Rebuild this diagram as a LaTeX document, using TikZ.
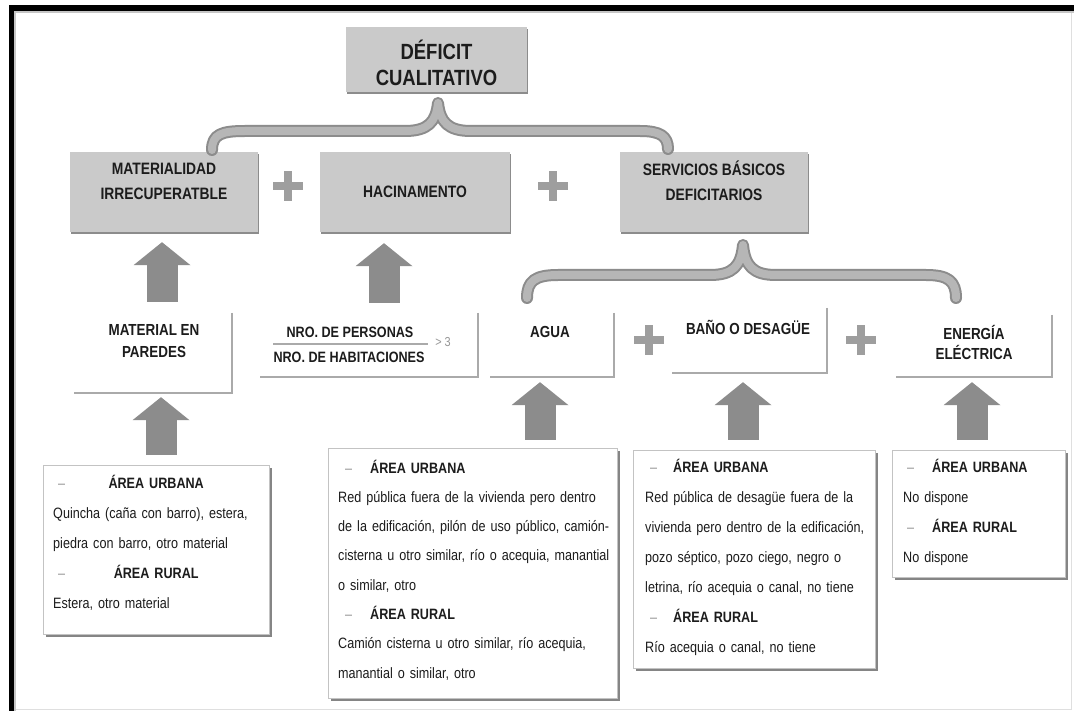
\documentclass[tikz,border=0pt]{standalone}
\usepackage{fontspec}
\setmainfont{Liberation Sans}[FakeStretch=0.84]
\usetikzlibrary{arrows.meta,calc,shadows}

\definecolor{boxgray}{RGB}{202,202,202}
\definecolor{shadowgray}{RGB}{120,120,120}
\definecolor{arrowgray}{RGB}{140,140,140}
\definecolor{bracefill}{RGB}{182,182,182}
\definecolor{braceedge}{RGB}{140,140,140}
\definecolor{plusgray}{RGB}{158,158,158}
\definecolor{ink}{RGB}{28,28,28}
\definecolor{linegray}{RGB}{170,170,170}
\definecolor{dashgray}{RGB}{150,150,150}

\tikzset{
  greybox/.style={rectangle, fill=boxgray, draw=none, inner sep=0pt,
    drop shadow={shadow xshift=1pt, shadow yshift=-2.5pt, fill=shadowgray, opacity=0.85}},
  openbox/.style={rectangle, draw=none, inner sep=0pt},
  infobox/.style={rectangle, fill=white, draw=linegray!70, line width=0.8pt, inner sep=0pt,
    drop shadow={shadow xshift=2.5pt, shadow yshift=-2.5pt, fill=shadowgray, opacity=0.9}},
  boxedge/.style={draw=linegray, line width=1.6pt},
  title/.style={text=ink, font=\bfseries\fontsize{22}{26}\selectfont, align=center, inner sep=0pt},
  headtext/.style={text=ink, font=\bfseries\fontsize{16.5}{25}\selectfont, align=center, inner sep=0pt},
  subtext/.style={text=ink, font=\bfseries\fontsize{16}{22}\selectfont, align=center, inner sep=0pt},
  fractext/.style={text=ink, font=\bfseries\fontsize{15}{18}\selectfont, inner sep=0pt},
  bodytext/.style={text=ink, font=\fontsize{15}{#1}\selectfont, align=left, inner sep=0pt, anchor=base west},
  plussign/.style={minimum size=30pt, inner sep=0pt,
    path picture={
      \fill[plusgray] ([xshift=-15pt,yshift=-3.8pt]path picture bounding box.center)
        rectangle ([xshift=15pt,yshift=3.8pt]path picture bounding box.center);
      \fill[plusgray] ([xshift=-3.8pt,yshift=-15pt]path picture bounding box.center)
        rectangle ([xshift=3.8pt,yshift=15pt]path picture bounding box.center);}},
  blockarrow/.style={draw=arrowgray, line width=31pt,
    -{Triangle[width=57pt,length=23pt,line width=0pt]}},
  braceouter/.style={draw=braceedge, line width=12pt, line cap=round, line join=round},
  braceinner/.style={draw=bracefill, line width=8pt, line cap=round, line join=round},
}

\newcommand{\urb}[2]{\hspace{#1}\textcolor{dashgray}{–}\hspace{#2}\textbf{ÁREA URBANA}}
\newcommand{\rur}[2]{\hspace{#1}\textcolor{dashgray}{–}\hspace{#2}\textbf{ÁREA RURAL}}

\begin{document}
\begin{tikzpicture}[x=1pt,y=-1pt]
\useasboundingbox (0,0) rectangle (1074,711);
\fill[white] (0,0) rectangle (1074,711);

% page frame
\fill[black] (9,5) rectangle (1074,11);
\fill[black] (9,5) rectangle (14,711);
\fill[gray!45] (14,11) rectangle (16,711);
\fill[gray!45] (14,11) rectangle (1074,13);
\draw[gray!25, line width=1pt] (1071,13) -- (1071,709) -- (16,709);

% top level
\node[greybox, minimum width=181pt, minimum height=65pt] (def) at (436.5,59.5) {};
\node[title] (defT) at (436.5,63) {DÉFICIT\\CUALITATIVO};

% second level
\node[greybox, minimum width=188pt, minimum height=80pt] (mat) at (164,192) {};
\node[greybox, minimum width=190pt, minimum height=80pt] (hac) at (415,192) {};
\node[greybox, minimum width=188pt, minimum height=80pt] (srv) at (714,192) {};
\node[headtext] (matT) at (164,181) {MATERIALIDAD\\IRRECUPERATBLE};
\node[headtext] (hacT) at (415,192) {HACINAMENTO};
\node[headtext] (srvT) at (714,181) {SERVICIOS BÁSICOS\\DEFICITARIOS};
\node[plussign] (p1) at (288,186) {};
\node[plussign] (p2) at (553,186) {};

% brace from the top box to the second level
\coordinate (t1) at (438,103);
\coordinate (l1) at (212,150);
\coordinate (r1) at (668,149);
\foreach \st in {braceouter,braceinner}{
  \draw[\st] (l1) .. controls (212,134) and (222,131) .. (245,131)
    -- (405,131) .. controls (428,131) and (436,122) .. (t1)
    .. controls (440,122) and (448,131) .. (471,131)
    -- (640,131) .. controls (660,131) and (668,136) .. (r1);
}

% third level
\node[openbox, minimum width=158pt, minimum height=80pt] (matpar) at (153,353) {};
\node[openbox, minimum width=218pt, minimum height=64pt] (frac) at (369,345) {};
\node[openbox, minimum width=124pt, minimum height=64pt] (agua) at (552,345) {};
\node[openbox, minimum width=155pt, minimum height=65pt] (bano) at (749.5,340.5) {};
\node[openbox, minimum width=156pt, minimum height=62pt] (energ) at (974,346) {};
\foreach \b in {matpar,frac,agua,bano,energ}{
  \draw[boxedge] (\b.north east) -- (\b.south east) -- (\b.south west);
}
\node[subtext] (matparT) at (154,341) {MATERIAL EN\\PAREDES};
\node[fractext] (fracnum) at (350,332) {NRO. DE PERSONAS};
\node[fractext] (fracden) at (349,357) {NRO. DE HABITACIONES};
\draw[linegray, line width=1.2pt] (fracden.north west |- 0,344) -- ([xshift=3pt]fracden.east |- 0,344);
\node[text=dashgray, font=\fontsize{13}{15}\selectfont, inner sep=0pt] (gt) at (443,342) {> 3};
\node[subtext] (aguaT) at (550,332) {AGUA};
\node[subtext] (banoT) at (748,327) {BAÑO O DESAGÜE};
\node[subtext, font=\bfseries\fontsize{16}{20}\selectfont] (energT) at (974,342) {ENERGÍA\\ELÉCTRICA};
\node[plussign] (p3) at (649,340) {};
\node[plussign] (p4) at (861,340) {};

% brace over the basic services
\coordinate (t2) at (743,245);
\coordinate (l2) at (527,298);
\coordinate (r2) at (956,298);
\foreach \st in {braceouter,braceinner}{
  \draw[\st] (l2) .. controls (527,281) and (535,275) .. (558,275)
    -- (710,275) .. controls (733,275) and (741,266) .. (t2)
    .. controls (745,266) and (753,275) .. (776,275)
    -- (926,275) .. controls (948,275) and (956,281) .. (r2);
}

% detail boxes
\node[infobox, minimum width=226pt, minimum height=169pt] (b1) at (156,549.5) {};
\node[infobox, minimum width=289pt, minimum height=250pt] (b2) at (472.5,573) {};
\node[infobox, minimum width=242pt, minimum height=218pt] (b3) at (754,559) {};
\node[infobox, minimum width=173pt, minimum height=127pt] (b4) at (978.5,513.5) {};

\node[bodytext=30pt, text width=206pt] (b1T) at (53,488) {%
  \makebox[0pt][l]{\hspace{5pt}\textcolor{dashgray}{–}}\makebox[\linewidth]{\textbf{ÁREA URBANA}}\\
  Quincha (caña con barro), estera,\\
  piedra con barro, otro material\\
  \makebox[0pt][l]{\hspace{5pt}\textcolor{dashgray}{–}}\makebox[\linewidth]{\textbf{ÁREA RURAL}}\\
  Estera, otro material};
\node[bodytext=29.3pt, text width=280pt] (b2T) at (338,473) {%
  \urb{7pt}{18pt}\\
  Red pública fuera de la vivienda pero dentro\\
  de la edificación, pilón de uso público, camión-\\
  cisterna u otro similar, río o acequia, manantial\\
  o similar, otro\\
  \rur{7pt}{18pt}\\
  Camión cisterna u otro similar, río acequia,\\
  manantial o similar, otro};
\node[bodytext=30pt, text width=240pt] (b3T) at (645,472) {%
  \urb{5pt}{16pt}\\
  Red pública de desagüe fuera de la\\
  vivienda pero dentro de la edificación,\\
  pozo séptico, pozo ciego, negro o\\
  letrina, río acequia o canal, no tiene\\
  \rur{5pt}{16pt}\\
  Río acequia o canal, no tiene};
\node[bodytext=30.3pt, text width=160pt] (b4T) at (903,472) {%
  \urb{4pt}{18pt}\\
  No dispone\\
  \rur{4pt}{18pt}\\
  No dispone};

% upward block arrows
\draw[blockarrow, shorten <=11pt, shorten >=10pt] (162,0 |- matpar.north) -- (162,0 |- mat.south);
\draw[blockarrow, shorten <=10pt, shorten >=11pt] (384,0 |- frac.north) -- (384,0 |- hac.south);
\draw[blockarrow, shorten <=10pt, shorten >=4pt] (161,0 |- b1.north) -- (161,0 |- matpar.south);
\draw[blockarrow, shorten <=8pt, shorten >=5pt] (540,0 |- b2.north) -- (540,0 |- agua.south);
\draw[blockarrow, shorten <=10pt, shorten >=9pt] (743,0 |- b3.north) -- (743,0 |- bano.south);
\draw[blockarrow, shorten <=10pt, shorten >=5pt] (972,0 |- b4.north) -- (972,0 |- energ.south);
\end{tikzpicture}
\end{document}
